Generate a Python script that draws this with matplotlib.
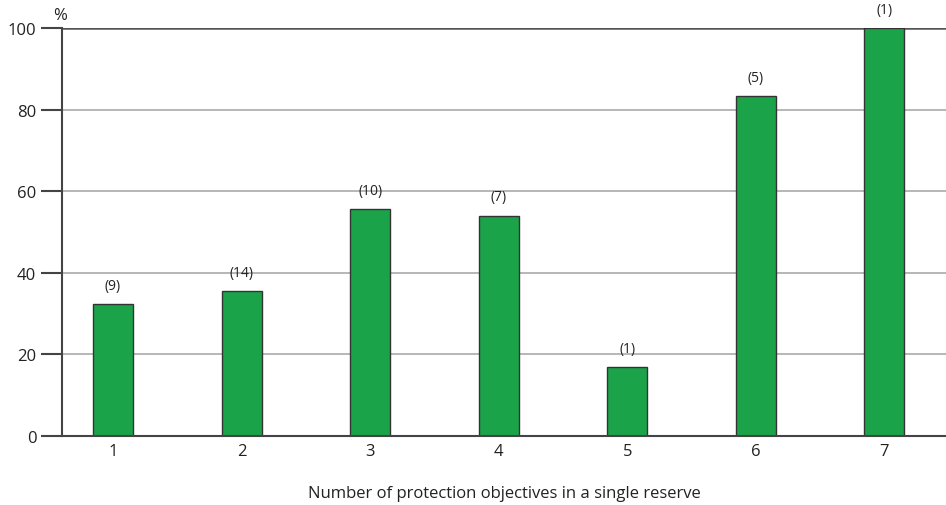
import matplotlib
matplotlib.use("Agg")
import matplotlib.pyplot as plt

categories = [1, 2, 3, 4, 5, 6, 7]
percent = [32.4, 35.5, 55.6, 54.0, 16.8, 83.3, 100.0]
counts = ["(9)", "(14)", "(10)", "(7)", "(1)", "(5)", "(1)"]
yticks = [0, 20, 40, 60, 80, 100]

plt.rcParams['font.family'] = ['Open Sans', 'DejaVu Sans']

fig = plt.figure(figsize=(9.46, 5.06), dpi=100)
ax = fig.add_axes([62/946, 1-437/506, 1-62/946, (437-29)/506])

ax.set_xlim(0.603, 7.48)
ax.set_ylim(0, 100)

for y in yticks[1:-1]:
    ax.axhline(y, color='#aaaaaa', lw=1.2, zorder=0)
ax.axhline(100, color='#555555', lw=1.8, zorder=0)

ax.bar(categories, percent, width=0.31, color='#1BA34A', edgecolor='#333333', linewidth=1.0, zorder=2)
for x, v, c in zip(categories, percent, counts):
    ax.text(x, v + 4.6, c, ha='center', va='center', fontsize=10, color='#222222',
            clip_on=False)

for s in ['top', 'right']:
    ax.spines[s].set_visible(False)
ax.spines['left'].set_color('#444444')
ax.spines['left'].set_linewidth(1.5)
ax.spines['bottom'].set_color('#444444')
ax.spines['bottom'].set_linewidth(1.5)

ax.set_yticks(yticks)
ax.set_yticklabels([str(t) for t in yticks], fontsize=12, color='#222222')
ax.tick_params(axis='y', length=15, width=1.5, color='#444444', pad=3.5)
ax.set_xticks(categories)
ax.set_xticklabels([str(c) for c in categories], fontsize=12, color='#222222')
ax.tick_params(axis='x', length=0, pad=5)

ax.set_xlabel('Number of protection objectives in a single reserve', fontsize=12, color='#222222', labelpad=19)
fig.text(60/946, 1-16/506, '%', fontsize=12, ha='center', va='center', color='#222222')

fig.savefig('out.png', dpi=100)
